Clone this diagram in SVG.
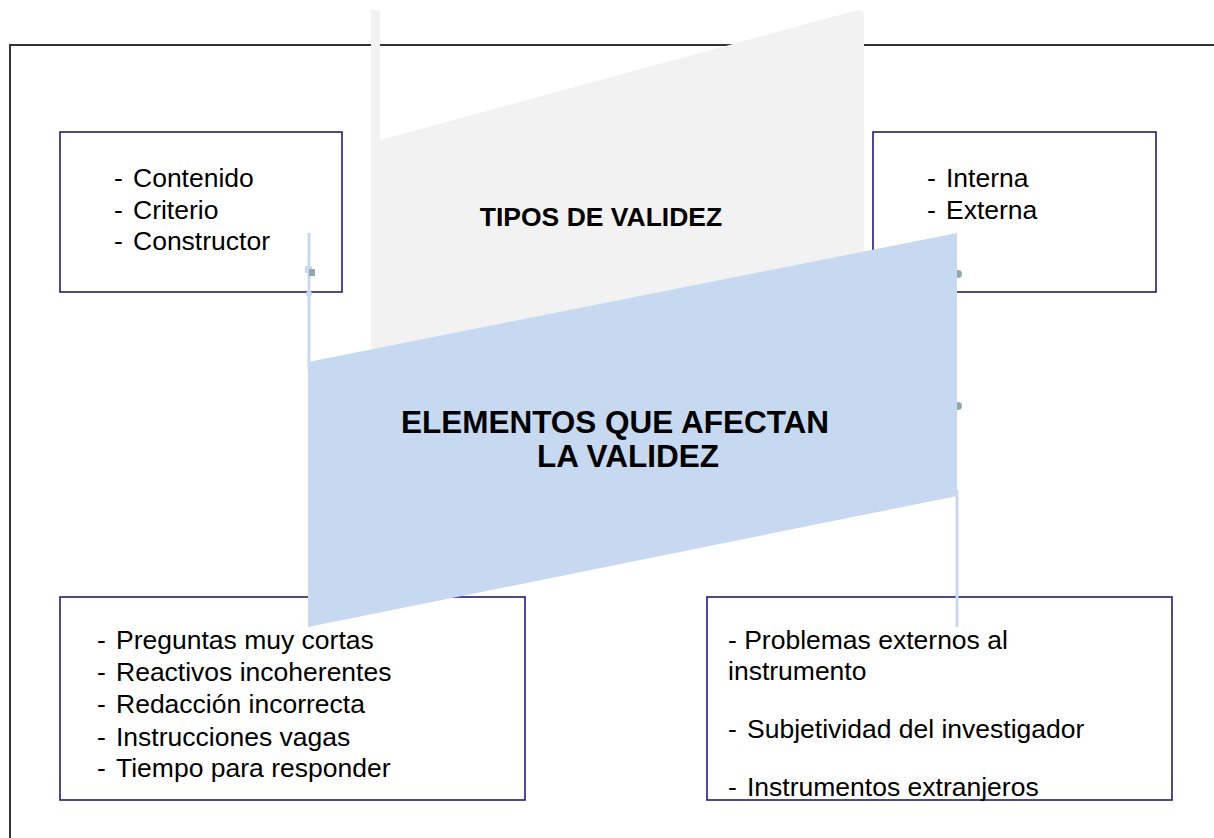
<svg xmlns="http://www.w3.org/2000/svg" width="1214" height="838" viewBox="0 0 1214 838">
<style>
.box{fill:#fff;stroke:#1f1f78;stroke-width:1.6}
.t{font-family:"Liberation Sans",Arial,sans-serif;font-size:26.5px;fill:#000}
.b{font-family:"Liberation Sans",Arial,sans-serif;font-weight:bold;fill:#000;text-anchor:middle}
.conn{stroke:#c6d9f1;stroke-width:3;fill:none}
</style>
<rect width="1214" height="838" fill="#fff"/>
<path d="M10,838 V45 H1214" fill="none" stroke="#333" stroke-width="2"/>
<g id="node-contenido">
<rect class="box" x="60" y="132" width="282" height="160"/>
<text class="t"><tspan x="114" y="187">- </tspan><tspan x="133" y="187">Contenido</tspan><tspan x="114" y="219">- </tspan><tspan x="133" y="219">Criterio</tspan><tspan x="114" y="250">- </tspan><tspan x="133" y="250">Constructor</tspan></text>
</g>
<g id="node-interna">
<rect class="box" x="873" y="132" width="283" height="160"/>
<text class="t"><tspan x="927" y="187">- </tspan><tspan x="946" y="187">Interna</tspan><tspan x="927" y="219">- </tspan><tspan x="946" y="219">Externa</tspan></text>
</g>
<g id="node-tipos">
<path d="M371,10 H380 V140 L858,10 Q864,9 864,16 V360 H371 Z" fill="#f2f2f2"/>
<text class="b" x="601" y="226" font-size="26.5">TIPOS DE VALIDEZ</text>
</g>
<g id="node-preguntas">
<rect class="box" x="60" y="597" width="465" height="203"/>
<text class="t"><tspan x="97" y="649">- </tspan><tspan x="116" y="649">Preguntas muy cortas</tspan><tspan x="97" y="681">- </tspan><tspan x="116" y="681">Reactivos incoherentes</tspan><tspan x="97" y="713">- </tspan><tspan x="116" y="713">Redacción incorrecta</tspan><tspan x="97" y="746">- </tspan><tspan x="116" y="746">Instrucciones vagas</tspan><tspan x="97" y="777">- </tspan><tspan x="116" y="777">Tiempo para responder</tspan></text>
</g>
<g id="node-problemas">
<rect class="box" x="707" y="597" width="465" height="203"/>
<text class="t"><tspan x="728" y="649">- Problemas externos al</tspan><tspan x="728" y="680">instrumento</tspan><tspan x="728" y="738">- </tspan><tspan x="747" y="738">Subjetividad del investigador</tspan><tspan x="728" y="796">- </tspan><tspan x="747" y="796">Instrumentos extranjeros</tspan></text>
</g>
<g id="connectors">
<line class="conn" x1="309" y1="233" x2="309" y2="370"/>
<line class="conn" x1="957" y1="490" x2="957" y2="627"/>
<rect x="305" y="266" width="7" height="7" fill="#c6d9f1"/>
<rect x="309" y="269" width="6" height="7" fill="#8fa8b0"/>
<circle cx="309" cy="294" r="3" fill="#c6d9f1"/>
<circle cx="958" cy="274" r="4" fill="#8fa8b0"/>
<circle cx="958" cy="406" r="4" fill="#8fa8b0"/>
</g>
<g id="node-elementos">
<path d="M308,362 L957,233 V496 L308,627 Z" fill="#c6d9f1"/>
<text class="b" x="615" y="433" font-size="31.5">ELEMENTOS QUE AFECTAN</text>
<text class="b" x="628" y="467" font-size="31.5">LA VALIDEZ</text>
</g>
</svg>
